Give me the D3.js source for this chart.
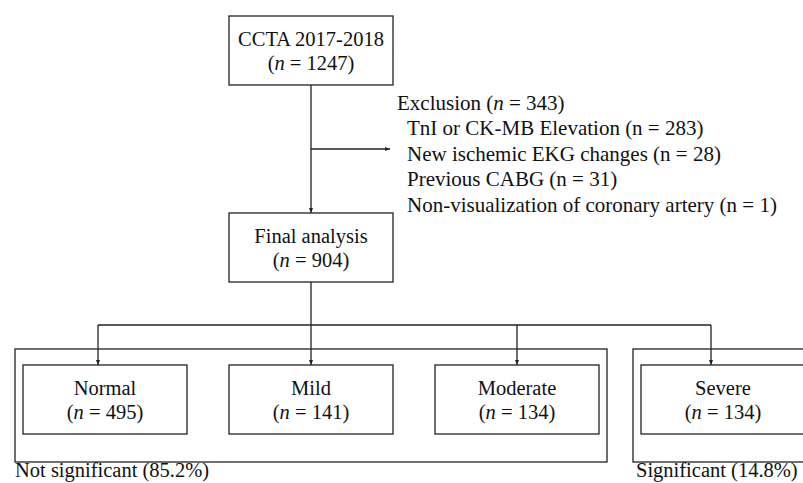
<!DOCTYPE html>
<html><head><meta charset="utf-8">
<script src="https://cdn.jsdelivr.net/npm/d3@7"></script>
<style>
body{margin:0;background:#fff;}
text{font-family:"Liberation Serif","Times New Roman",serif;fill:#111;}
</style></head>
<body><svg id="c" width="803" height="483"></svg>
<script>
// ---- data ----
const topLabel = "CCTA 2017-2018";
const topN = 1247;
const exclusionLabel = "Exclusion";
const exclusionN = 343;
const exclusionReasons = ["TnI or CK-MB Elevation", "New ischemic EKG changes", "Previous CABG", "Non-visualization of coronary artery"];
const exclusionCounts = [283, 28, 31, 1];
const finalLabel = "Final analysis";
const finalN = 904;
const groups = ["Normal", "Mild", "Moderate", "Severe"];
const groupCounts = [495, 141, 134, 134];
const clusterLabels = ["Not significant (85.2%)", "Significant (14.8%)"];
const clusterMembers = [["Normal", "Mild", "Moderate"], ["Severe"]];

// ---- layout ----
const svg = d3.select("#c");
const FS = 20.5;
const FSX = 21;
const stroke = "#222";
const sw = 1.3;
const x = d3.scaleBand().domain(groups).range([23, 805]).paddingInner(42/206).paddingOuter(0);
const arrowOffset = {Normal: -7, Mild: 0, Moderate: 0, Severe: -12};
const boxW = 164, boxH = 69;
const mainX = x("Mild") + x.bandwidth()/2;

const defs = svg.append("defs");
defs.append("marker").attr("id","ah").attr("viewBox","0 0 10 10").attr("refX",10).attr("refY",5)
  .attr("markerWidth",5).attr("markerHeight",5).attr("markerUnits","userSpaceOnUse").attr("orient","auto")
  .append("path").attr("d","M0,1L10,5L0,9Z").attr("fill",stroke);

function box(cx, top, label, n, w=boxW, h=boxH) {
  svg.append("rect").attr("x", cx - w/2).attr("y", top).attr("width", w).attr("height", h)
    .attr("fill","none").attr("stroke",stroke).attr("stroke-width",sw);
  svg.append("text").attr("x",cx).attr("y",top+30).attr("text-anchor","middle").attr("font-size",FS).text(label);
  const t = svg.append("text").attr("x",cx).attr("y",top+53.5).attr("text-anchor","middle").attr("font-size",FS);
  t.append("tspan").text("(");
  t.append("tspan").attr("font-style","italic").text("n");
  t.append("tspan").text(" = " + n + ")");
}
function line(pts, arrow) {
  const p = svg.append("path").attr("d", d3.line()(pts)).attr("fill","none").attr("stroke",stroke).attr("stroke-width",sw);
  if (arrow) p.attr("marker-end","url(#ah)");
}

// cluster outer boxes
const clusterTop = 349, clusterBottom = 462;
clusterMembers.forEach((mem, i) => {
  const x0 = x(mem[0]) - 8, x1 = x(mem[mem.length-1]) + x.bandwidth() + 8;
  svg.append("rect").attr("x",x0).attr("y",clusterTop).attr("width",x1-x0).attr("height",clusterBottom-clusterTop)
    .attr("fill","none").attr("stroke",stroke).attr("stroke-width",sw);
  svg.append("text").attr("x",x0 + (i ? 3 : 0)).attr("y",clusterBottom+14.5).attr("font-size",FS).text(clusterLabels[i]);
});

// top / final boxes
box(mainX, 16, topLabel, topN);
box(mainX, 213, finalLabel, finalN);
line([[mainX, 16+boxH],[mainX, 213]], true);

// exclusion
line([[mainX, 149],[390, 149]], true);
const ex = svg.append("text").attr("x",397).attr("y",110).attr("font-size",FSX);
ex.append("tspan").text(exclusionLabel + " (");
ex.append("tspan").attr("font-style","italic").text("n");
ex.append("tspan").text(" = " + exclusionN + ")");
exclusionReasons.forEach((r,i) => {
  svg.append("text").attr("x",407).attr("y",110 + 25.4*(i+1)).attr("font-size",FSX)
    .text(r + " (n = " + exclusionCounts[i] + ")");
});

// branch
const branchY = 325;
line([[mainX, 213+boxH],[mainX, 365]], true);
const ax = groups.map(g => x(g) + x.bandwidth()/2 + arrowOffset[g]);
line([[d3.min(ax), branchY],[d3.max(ax), branchY]], false);
groups.forEach((g,i) => {
  if (g !== "Mild") line([[ax[i], branchY],[ax[i], 365]], true);
  box(x(g) + x.bandwidth()/2, 365, g, groupCounts[i]);
});
</script></body></html>
